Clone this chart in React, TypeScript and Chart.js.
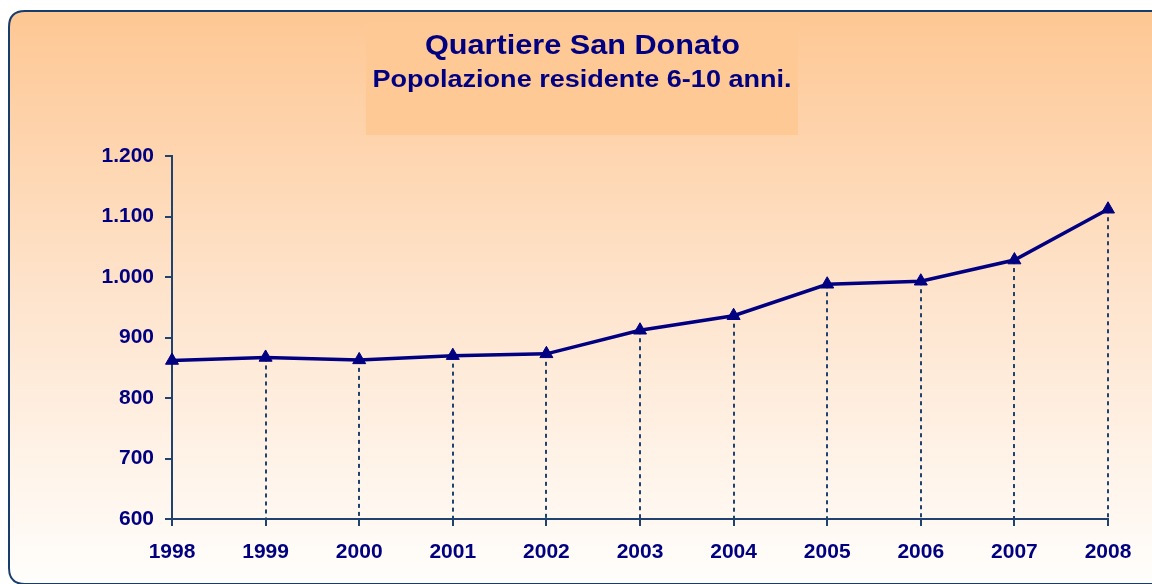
import React, { useEffect, useRef } from "react";
import { Chart, registerables } from "chart.js";

Chart.register(...registerables);

const years = ["1998", "1999", "2000", "2001", "2002", "2003", "2004", "2005", "2006", "2007", "2008"];
const population = [862, 867, 863, 870, 873, 912, 936, 988, 993, 1028, 1112];
const yTicks = [600, 700, 800, 900, 1000, 1100, 1200];
const titleText = "Quartiere San Donato";
const subtitleText = "Popolazione residente 6-10 anni.";

const FONT = '"Liberation Sans", Arial, sans-serif';
const NAVY = "#000080";
const AXIS = "#1F426E";

function fmt(v: number): string {
  return String(Math.round(v)).replace(/\B(?=(\d{3})+(?!\d))/g, ".");
}

function roundRect(ctx: CanvasRenderingContext2D, x: number, y: number, w: number, h: number, r: number) {
  ctx.beginPath();
  ctx.moveTo(x + r, y);
  ctx.lineTo(x + w - r, y);
  ctx.quadraticCurveTo(x + w, y, x + w, y + r);
  ctx.lineTo(x + w, y + h - r);
  ctx.quadraticCurveTo(x + w, y + h, x + w - r, y + h);
  ctx.lineTo(x + r, y + h);
  ctx.quadraticCurveTo(x, y + h, x, y + h - r);
  ctx.lineTo(x, y + r);
  ctx.quadraticCurveTo(x, y, x + r, y);
  ctx.closePath();
}

function drawStretched(ctx: CanvasRenderingContext2D, text: string, cx: number, baseline: number, size: number, targetW: number) {
  ctx.save();
  ctx.font = `bold ${size}px ${FONT}`;
  const w = ctx.measureText(text).width;
  const sx = targetW / w;
  ctx.translate(cx, baseline);
  ctx.scale(sx, 1);
  ctx.textAlign = "center";
  ctx.textBaseline = "alphabetic";
  ctx.fillStyle = NAVY;
  ctx.fillText(text, 0, 0);
  ctx.restore();
}

const backgroundPlugin = {
  id: "panelBackground",
  beforeDraw(chart: any) {
    const ctx: CanvasRenderingContext2D = chart.ctx;
    const W = chart.width;
    const H = chart.height;
    ctx.save();
    ctx.fillStyle = "#FFFFFF";
    ctx.fillRect(0, 0, W, H);
    const g = ctx.createLinearGradient(0, 11, 0, 584);
    g.addColorStop(0, "#FEC793");
    g.addColorStop(0.5, "#FEE4CD");
    g.addColorStop(1, "#FFFEFC");
    roundRect(ctx, 9, 11, 1165, 573, 16);
    ctx.fillStyle = g;
    ctx.fill();
    ctx.lineWidth = 2;
    ctx.strokeStyle = "#163D6E";
    ctx.stroke();
    ctx.fillStyle = "#FEC995";
    ctx.fillRect(366, 22, 432, 113);
    ctx.restore();
    drawStretched(ctx, titleText, 582.5, 53.5, 27, 315);
    drawStretched(ctx, subtitleText, 582, 86.5, 23.3, 419);
  },
};

const dropLinePlugin = {
  id: "dropLines",
  beforeDatasetsDraw(chart: any) {
    const ctx: CanvasRenderingContext2D = chart.ctx;
    const meta = chart.getDatasetMeta(0);
    const bottom = chart.scales.y.getPixelForValue(600);
    ctx.save();
    ctx.strokeStyle = AXIS;
    ctx.lineWidth = 2;
    ctx.setLineDash([4, 4]);
    meta.data.forEach((pt: any, i: number) => {
      if (i === 0) return;
      ctx.beginPath();
      ctx.moveTo(Math.round(pt.x), pt.y);
      ctx.lineTo(Math.round(pt.x), bottom);
      ctx.stroke();
    });
    ctx.restore();
  },
};

export default function App() {
  const ref = useRef<HTMLCanvasElement | null>(null);
  useEffect(() => {
    if (!ref.current) return;
    const chart = new Chart(ref.current, {
      type: "line",
      data: {
        labels: years,
        datasets: [
          {
            data: population,
            borderColor: NAVY,
            backgroundColor: NAVY,
            borderWidth: 3.5,
            pointStyle: "triangle",
            pointRadius: 7.5,
            pointBorderWidth: 1,
            pointBackgroundColor: NAVY,
            pointBorderColor: NAVY,
            tension: 0,
            fill: false,
          },
        ],
      },
      options: {
        responsive: false,
        animation: false,
        layout: { padding: { top: 156, right: 44, bottom: 0, left: 0 } },
        plugins: { legend: { display: false }, title: { display: false }, tooltip: { enabled: false } },
        scales: {
          x: {
            type: "category",
            offset: false,
            grid: { display: true, drawOnChartArea: false, drawTicks: true, tickLength: 7, color: AXIS, lineWidth: 2 },
            border: { display: true, color: AXIS, width: 2 },
            ticks: { color: NAVY, font: { family: FONT, size: 21, weight: "bold" }, padding: 14, maxRotation: 0, autoSkip: false },
            afterFit: (s: any) => { s.height = 65; },
          },
          y: {
            min: 600,
            max: 1200,
            afterBuildTicks: (s: any) => { s.ticks = yTicks.map((v) => ({ value: v })); },
            grid: { display: true, drawOnChartArea: false, drawTicks: true, tickLength: 7, color: AXIS, lineWidth: 2 },
            border: { display: true, color: AXIS, width: 2 },
            ticks: { color: NAVY, font: { family: FONT, size: 21, weight: "bold" }, padding: 11, callback: (v: any) => fmt(Number(v)) },
            afterFit: (s: any) => { s.width = 172; },
          },
        },
      },
      plugins: [backgroundPlugin, dropLinePlugin],
    } as any);
    return () => chart.destroy();
  }, []);
  return (
    <div style={{ position: "fixed", left: 0, top: 0, width: 1152, height: 584 }}>
      <canvas ref={ref} width={1152} height={584} style={{ width: 1152, height: 584, display: "block" }} />
    </div>
  );
}
